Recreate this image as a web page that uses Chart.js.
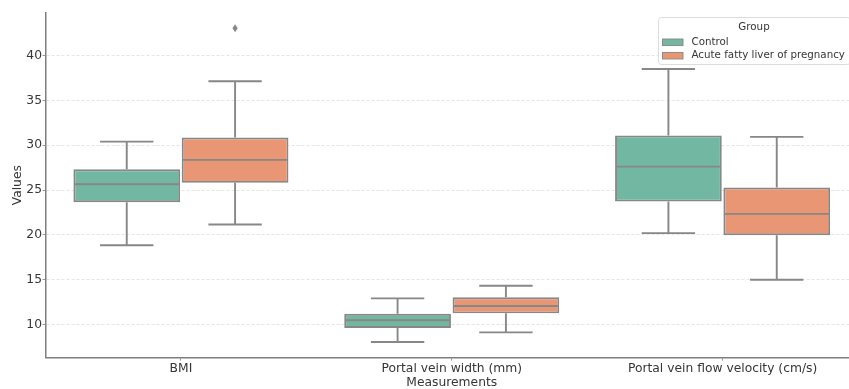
<!DOCTYPE html>
<html>
<head>
<meta charset="utf-8">
<script src="https://cdn.jsdelivr.net/npm/chart.js@4.4.0/dist/chart.umd.min.js"></script>
<style>
  html, body { margin: 0; padding: 0; overflow: hidden; background: #fff; }
  #wrap { width: 860px; height: 389px; position: relative; }
</style>
</head>
<body>
<div id="wrap"><canvas id="c"></canvas></div>
<script>
// Measurements along the x axis
const categories = ['BMI', 'Portal vein width (mm)', 'Portal vein flow velocity (cm/s)'];
const groups = ['Control', 'Acute fatty liver of pregnancy'];

// Control group summary per measurement
const controlLow    = [18.85, 8.05, 20.2];
const controlQ1     = [23.65, 9.61, 23.71];
const controlMedian = [25.65, 10.47, 27.61];
const controlQ3     = [27.32, 11.2, 31.07];
const controlHigh   = [30.4, 12.92, 38.5];
const controlOutliers = [[], [], []];

// AFLP group summary per measurement
const aflpLow    = [21.15, 9.13, 15.0];
const aflpQ1     = [25.8, 11.25, 19.97];
const aflpMedian = [28.36, 12.06, 22.34];
const aflpQ3     = [30.85, 13.03, 25.27];
const aflpHigh   = [37.13, 14.33, 30.93];
const aflpOutliers = [[43.04], [], []];

const yTicks = [10, 15, 20, 25, 30, 35, 40];

const groupColors = ['#72b7a1', '#e99675'];
const lineGray = '#878787';
const textColor = '#363636';
const FONT = "'DejaVu Sans', sans-serif";
const AXIS_FONT = { family: FONT, size: 12.3 };

const summaries = [
  { low: controlLow, q1: controlQ1, med: controlMedian, q3: controlQ3, high: controlHigh, out: controlOutliers },
  { low: aflpLow, q1: aflpQ1, med: aflpMedian, q3: aflpQ3, high: aflpHigh, out: aflpOutliers }
];

// whiskers, medians and fliers on top of the floating box bars
const boxExtras = {
  id: 'boxExtras',
  afterDatasetsDraw(chart) {
    const ctx = chart.ctx;
    const y = chart.scales.y;
    ctx.save();
    ctx.strokeStyle = lineGray;
    ctx.lineWidth = 1.9;
    ctx.lineCap = 'butt';
    summaries.forEach((s, d) => {
      const meta = chart.getDatasetMeta(d);
      meta.data.forEach((bar, i) => {
        const x = bar.x, w = bar.width;
        const pLow = y.getPixelForValue(s.low[i]);
        const pQ1 = y.getPixelForValue(s.q1[i]);
        const pMed = y.getPixelForValue(s.med[i]);
        const pQ3 = y.getPixelForValue(s.q3[i]);
        const pHigh = y.getPixelForValue(s.high[i]);
        ctx.beginPath();
        ctx.moveTo(x, pQ3); ctx.lineTo(x, pHigh);
        ctx.moveTo(x, pQ1); ctx.lineTo(x, pLow);
        ctx.moveTo(x - w / 4, pHigh); ctx.lineTo(x + w / 4, pHigh);
        ctx.moveTo(x - w / 4, pLow); ctx.lineTo(x + w / 4, pLow);
        ctx.moveTo(x - w / 2 + 1, pMed); ctx.lineTo(x + w / 2 - 1, pMed);
        ctx.stroke();
        ctx.fillStyle = lineGray;
        s.out[i].forEach(v => {
          const py = y.getPixelForValue(v);
          ctx.beginPath();
          ctx.moveTo(x, py - 4);
          ctx.lineTo(x + 2.6, py);
          ctx.lineTo(x, py + 4);
          ctx.lineTo(x - 2.6, py);
          ctx.closePath();
          ctx.fill();
        });
      });
    });
    ctx.restore();
  }
};

// legend box with title in the upper right of the plot
const groupLegend = {
  id: 'groupLegend',
  afterDraw(chart) {
    const ctx = chart.ctx;
    const left = 658.5, top = 17.5, right = 850.5, bottom = 64.5, r = 3;
    ctx.save();
    ctx.beginPath();
    ctx.moveTo(left + r, top);
    ctx.lineTo(right - r, top);
    ctx.arcTo(right, top, right, top + r, r);
    ctx.lineTo(right, bottom - r);
    ctx.arcTo(right, bottom, right - r, bottom, r);
    ctx.lineTo(left + r, bottom);
    ctx.arcTo(left, bottom, left, bottom - r, r);
    ctx.lineTo(left, top + r);
    ctx.arcTo(left, top, left + r, top, r);
    ctx.closePath();
    ctx.fillStyle = 'rgba(255,255,255,0.85)';
    ctx.fill();
    ctx.strokeStyle = '#dcdcdc';
    ctx.lineWidth = 1;
    ctx.stroke();

    ctx.font = '10.3px ' + FONT;
    ctx.fillStyle = textColor;
    ctx.textBaseline = 'middle';
    ctx.textAlign = 'center';
    ctx.fillText('Group', 754, 27);
    ctx.textAlign = 'left';
    const rows = [42.3, 55.7];
    groups.forEach((g, k) => {
      ctx.fillStyle = groupColors[k];
      ctx.fillRect(662.5, rows[k] - 3.3, 20.5, 6.6);
      ctx.strokeStyle = lineGray;
      ctx.lineWidth = 0.9;
      ctx.strokeRect(662.5, rows[k] - 3.3, 20.5, 6.6);
      ctx.fillStyle = textColor;
      ctx.fillText(g, 691.5, rows[k]);
    });
    ctx.restore();
  }
};

const datasets = summaries.map((s, d) => ({
  label: groups[d],
  data: categories.map((_, i) => [s.q1[i], s.q3[i]]),
  backgroundColor: groupColors[d],
  borderColor: lineGray,
  borderWidth: 1.9,
  borderSkipped: false,
  categoryPercentage: 0.8,
  barPercentage: 0.985
}));

new Chart(document.getElementById('c'), {
  type: 'bar',
  data: { labels: categories, datasets },
  options: {
    responsive: true,
    maintainAspectRatio: false,
    animation: false,
    layout: { padding: { top: 12.7, right: 2, left: 0, bottom: 0 } },
    plugins: { legend: { display: false }, tooltip: { enabled: false } },
    scales: {
      x: {
        grid: { display: true, offset: false, drawOnChartArea: false, tickLength: 3, tickColor: '#9a9a9a', tickWidth: 1 },
        border: { display: true, color: '#7f7f7f', width: 1.5 },
        ticks: { color: textColor, font: AXIS_FONT, padding: 1, maxRotation: 0 },
        title: { display: true, text: 'Measurements', color: textColor, font: AXIS_FONT, padding: { top: 0, bottom: -1.5 } },
        afterFit(scale) { scale.height = 31.3; }
      },
      y: {
        min: 6.3,
        max: 44.78,
        afterBuildTicks(scale) { scale.ticks = yTicks.map(v => ({ value: v })); },
        grid: { color: '#dedede', lineWidth: 0.8, tickLength: 3, tickColor: '#9a9a9a', tickWidth: 1 },
        border: { display: true, color: '#7f7f7f', width: 1.5, dash: [3, 2] },
        ticks: { color: textColor, font: AXIS_FONT, padding: 0.5 },
        title: { display: true, text: 'Values', color: textColor, font: AXIS_FONT, padding: { top: 10.3, bottom: 0 } },
        afterFit(scale) { scale.width = 45.5; }
      }
    }
  },
  plugins: [boxExtras, groupLegend]
});
</script>
</body>
</html>
